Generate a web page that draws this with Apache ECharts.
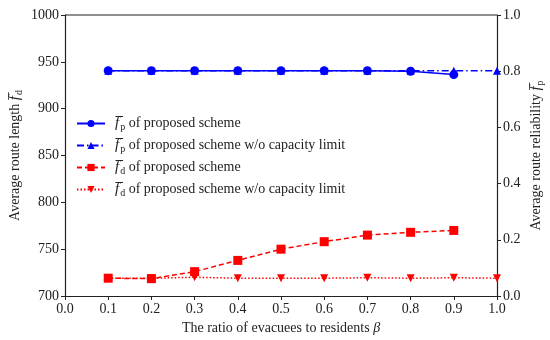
<!DOCTYPE html>
<html><head><meta charset="utf-8">
<script src="https://cdn.jsdelivr.net/npm/echarts@6/dist/echarts.min.js"></script>
<style>html,body{margin:0;padding:0;background:#fff}#c{width:550px;height:340px}</style>
</head><body><div id="c"></div>
<script>
var betas = [0.1,0.2,0.3,0.4,0.5,0.6,0.7,0.8,0.9,1.0];
var fpProposed = [0.802,0.802,0.802,0.802,0.802,0.802,0.802,0.800,0.788];
var fpNoCap = [0.802,0.802,0.802,0.802,0.802,0.802,0.802,0.802,0.802,0.802];
var fdProposed = [719,718.5,726,738,750,758,765,768,770];
var fdNoCap = [719,719,720,719,719,719,719.5,719,719.5,719];
var xTicks = [0.0,0.1,0.2,0.3,0.4,0.5,0.6,0.7,0.8,0.9,1.0];
var names = ['fp','fpn','fd','fdn'];
var legendText = {
  fp: '{f|f̅}{s|p}{t| of proposed scheme}',
  fpn: '{f|f̅}{s|p}{t| of proposed scheme w/o capacity limit}',
  fd: '{f|f̅}{s|d}{t| of proposed scheme}',
  fdn: '{f|f̅}{s|d}{t| of proposed scheme w/o capacity limit}'
};
function pairs(v){return v.map(function(y,i){return [betas[i],y];});}
var FONT = 'Liberation Serif';
var FS = 14;
var rich = {
  f:{fontFamily:FONT,fontStyle:'italic',fontSize:15,color:'#222'},
  s:{fontFamily:FONT,fontSize:10,color:'#222',padding:[7,0,0,1]},
  t:{fontFamily:FONT,fontSize:FS,color:'#222'}
};
var legRich = {
  f:{fontFamily:FONT,fontStyle:'italic',fontSize:15,color:'#222',padding:[0,0,0,5]},
  s:rich.s, t:rich.t
};
var chart = echarts.init(document.getElementById('c'));
chart.setOption({
  animation:false,
  grid:{left:65,right:53,top:15,bottom:44,containLabel:false,outerBoundsMode:'none'},
  legend:{
    orient:'vertical', left:71, top:111, itemGap:6, itemWidth:28, itemHeight:9,
    data:names,
    formatter:function(n){return legendText[n];},
    textStyle:{rich:legRich}
  },
  xAxis:{
    type:'value', min:0, max:1, interval:0.1,
    name:'The ratio of evacuees to residents {b|β}', nameLocation:'middle', nameGap:25,
    nameTextStyle:{fontFamily:FONT,fontSize:FS,color:'#222',rich:{b:{fontFamily:FONT,fontStyle:'italic',fontSize:FS,color:'#222'}}},
    axisLine:{lineStyle:{color:'#222',width:1.2}},
    axisTick:{inside:false,length:4,lineStyle:{color:'#222'}},
    axisLabel:{fontFamily:FONT,fontSize:FS,color:'#222',margin:6,formatter:function(v){return v.toFixed(1);}},
    splitLine:{show:false}
  },
  yAxis:[{
    type:'value', min:700, max:1000, interval:50, position:'left',
    name:'Average route length {f|f̅}{s|d}', nameLocation:'middle', nameGap:41, nameRotate:90,
    nameMoveOverlap:false,
    nameTextStyle:{fontFamily:FONT,fontSize:FS,color:'#222',rich:rich},
    axisLine:{show:true,lineStyle:{color:'#222',width:1.2}},
    axisTick:{show:true,length:4,lineStyle:{color:'#222'}},
    axisLabel:{fontFamily:FONT,fontSize:FS,color:'#222',margin:6,formatter:function(v){return String(v);}},
    splitLine:{show:false}
  },{
    type:'value', min:0, max:1, interval:0.2, position:'right',
    name:'Average route reliability {f|f̅}{s|p}', nameLocation:'middle', nameGap:31, nameRotate:90,
    nameMoveOverlap:false,
    nameTextStyle:{fontFamily:FONT,fontSize:FS,color:'#222',rich:rich},
    axisLine:{show:true,lineStyle:{color:'#222',width:1.2}},
    axisTick:{show:true,length:4,lineStyle:{color:'#222'}},
    axisLabel:{fontFamily:FONT,fontSize:FS,color:'#222',margin:6,formatter:function(v){return v.toFixed(1);}},
    splitLine:{show:false}
  }],
  graphic:[{type:'line',shape:{x1:65,y1:15,x2:497,y2:15},style:{stroke:'#222',lineWidth:1.2},silent:true}],
  series:[
    {name:'fp',type:'line',yAxisIndex:1,data:pairs(fpProposed),symbol:'circle',symbolSize:9,
     lineStyle:{color:'#0000ff',width:1.5,type:'solid'},itemStyle:{color:'#0000ff'},z:3},
    {name:'fpn',type:'line',yAxisIndex:1,data:pairs(fpNoCap),symbol:'triangle',symbolSize:8,
     lineStyle:{color:'#0000ff',width:1.5,type:[7,3,1.5,3]},itemStyle:{color:'#0000ff'},z:2},
    {name:'fd',type:'line',yAxisIndex:0,data:pairs(fdProposed),symbol:'rect',symbolSize:9,
     lineStyle:{color:'#ff0000',width:1.5,type:[5,3]},itemStyle:{color:'#ff0000'},z:3},
    {name:'fdn',type:'line',yAxisIndex:0,data:pairs(fdNoCap),symbol:'triangle',symbolRotate:180,symbolSize:8,
     lineStyle:{color:'#ff0000',width:1.5,type:[1.5,2]},itemStyle:{color:'#ff0000'},z:4}
  ]
});
</script></body></html>
